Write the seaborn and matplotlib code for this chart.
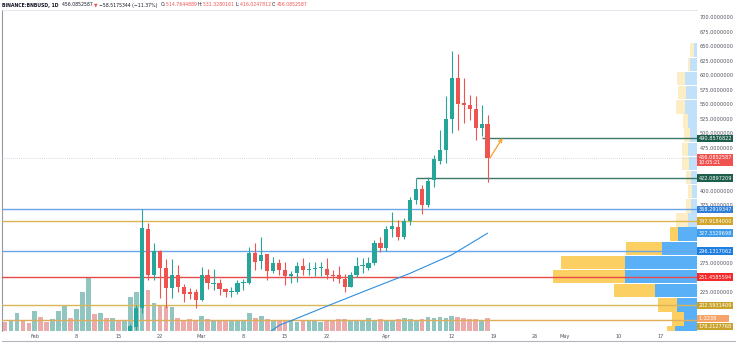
import matplotlib
matplotlib.use("Agg")
import matplotlib.pyplot as plt
import matplotlib.transforms as mtransforms
import numpy as np
import pandas as pd
import seaborn as sns

sns.set_theme(style="white")
plt.rcParams["font.family"] = ["DejaVu Sans"]

# ---- daily BNB/USD candles, day index counted from 1 Feb 2021 ----
candle_day = list(range(16, 77))
candle_open = [140, 166, 198, 334.5, 255, 296, 268, 232, 255, 235, 226.4, 226.4, 212, 255, 240.5,
               241, 230.5, 226, 226.4, 241, 241, 293.6, 279, 291, 262, 276, 264, 254, 259,
               271, 263, 265, 267, 266, 255, 255, 249, 235, 256, 270, 268, 275, 311, 302, 334,
               338, 321, 348, 384, 403, 376, 419, 452, 471, 524, 594, 551, 548, 541, 508,
               514.7644889]
candle_high = [170, 203, 369, 344.3, 310, 298, 282.8, 283, 272.4, 240, 233, 231, 269.5, 265.5, 265,
               249, 233, 234, 246.6, 248, 304, 309.8, 321.3, 292, 286.7, 283, 278, 262, 277,
               284, 277, 277, 277, 284, 264, 270, 257, 260, 286, 284, 287, 316, 320, 340, 364,
               350, 354, 390, 422.09, 410, 425, 462, 506, 564, 641, 637, 595, 565, 563, 548,
               531.3280161]
candle_low = [135, 160, 190, 246.6, 246, 215, 198.9, 215, 226.4, 209, 214, 197.8, 211, 231, 230,
              221, 218, 218, 222, 230, 239, 263.8, 265, 246.6, 259, 255, 238, 242, 243,
              255, 255, 254, 254, 249, 245, 241, 225, 234, 252, 259, 263, 273, 295, 297, 320,
              315, 318, 342, 378, 360, 372, 407, 447, 448, 500, 505, 517, 522, 488, 494,
              416.0247812]
candle_close = [167, 198, 335.7, 255.2, 296.6, 267.8, 232.2, 255.2, 235, 222.4, 222, 212, 255, 241,
                241.8, 230.5, 226.5, 227.5, 241, 243, 293.6, 278, 289.7, 262, 276.4, 264, 254,
                257, 271,
                263, 265, 267, 268, 255, 253, 249, 235, 256, 270, 272, 275, 311, 302, 334, 340,
                321, 348, 384, 403, 376, 418, 455, 471, 524, 594, 549.5, 549, 541, 508,
                514.7644889, 456.0852587]

# ---- daily volume (millions), from 27 Jan ----
volume_day = list(range(-5, 77))
volume = [0.88, 0.97, 1.67, 0.94, 0.73, 1.89, 1.29, 0.88, 1.10, 1.92, 2.36, 1.25, 2.08, 3.71,
          5.03, 1.60,
          1.67, 1.20, 1.26, 1.04, 1.04, 3.24, 3.71, 4.20, 3.87, 2.61, 2.39, 2.39, 2.29, 1.20,
          1.05, 1.10, 1.00, 1.44,
          1.10, 1.00, 1.05, 0.95, 0.90, 1.00, 1.05, 1.67, 1.20, 1.44, 1.10, 1.00,
          1.05, 0.95, 0.90, 0.85, 1.00, 0.95, 0.90, 0.85, 0.90, 1.05, 1.10, 1.15, 1.00, 0.95,
          1.05, 1.20, 1.00, 1.10, 0.95, 1.05, 1.10, 1.25, 1.15, 1.05, 1.15, 1.30, 1.20, 1.35,
          1.25, 1.40, 1.30, 1.20, 1.15, 1.10, 1.05, 1.2238]
# direction of the days before the first drawn candle
volume_up = [False, True, True, False, False, True, False, False, True, True, True, False, True,
             True, True, False, True, False, True, False, True]

# ---- 50-day moving average of close ----
ma_day = [39.5, 41.1, 43.3, 49.5, 56.0, 63.0, 70.0, 76.0]
ma_value = [157.4, 168.9, 177.6, 203.4, 230.0, 258.1, 290.0, 327.3]

# ---- visible-range volume profile (rows of 24.4 USD) ----
vp_bottom = [142.6, 167.0, 191.4, 215.8, 240.2, 264.6, 289.0, 313.4, 337.8, 362.2, 386.6,
             411.0, 435.4, 459.8, 484.2, 508.6, 533.0, 557.4, 581.8, 606.2, 630.6]
vp_up = [22, 13, 20, 42, 72, 72, 35, 19, 9, 6, 5, 6, 8, 9, 7, 9, 12, 11, 12, 7, 3]
vp_down = [8, 12, 19, 41, 72, 64, 36, 8, 12, 5, 4, 5, 7, 6, 6, 5, 9, 8, 8, 2, 4]
vp_value_area = (142.6, 337.8)

# ---- horizontal levels: (price, line colour, label colour, start day) ----
levels = [
    (368.2919347, "#6aa6e6", "#2f7fd8", None),
    (347.9184000, "#dcb453", "#d2a62a", None),
    (296.1317062, "#6aa6e6", "#1f7fe0", None),
    (251.4585594, "#e84a4a", "#f22a2a", None),
    (202.5931409, "#d8b656", "#c9a22c", None),
    (178.2127768, "#e0ad5a", "#c9a22c", None),
    (490.8576822, "#3d7766", "#1e5e4c", 75.0),
    (422.0897209, "#3d7766", "#1e5e4c", 64.0),
]
ma_label = 327.3329698
last_price = 456.0852587
volume_label = "1.2238"

price_ticks = [700, 675, 650, 625, 600, 575, 550, 525, 500, 475, 400, 375, 275, 225]
date_ticks = [0, 7, 14, 21, 28, 35, 42, 49, 59, 70, 77, 84, 89, 98, 105]
date_labels = ["Feb", "8", "15", "22", "Mar", "8", "15", "22", "Apr", "12", "19", "26", "May",
               "10", "17"]

UP, DOWN = "#26a69a", "#ef5350"
TXT = "#50535e"
FS = 3.6

W, H = 736, 345
fig = plt.figure(figsize=(W / 100, H / 100), dpi=100)
fig.patch.set_facecolor("white")
pane = [2 / W, (H - 331) / H, 695 / W, 321 / H]
XL = (-5.52, 111.15)

# volume pane at the back
axv = fig.add_axes(pane)
vol_df = pd.DataFrame({"day": volume_day, "volume": volume})
up_flags = volume_up + [c >= o for o, c in zip(candle_open, candle_close)]
vol_df["dir"] = np.where(up_flags, "up", "down")
sns.barplot(data=vol_df, x="day", y="volume", hue="dir", native_scale=True, dodge=False,
            palette={"up": UP, "down": DOWN}, alpha=0.55, width=0.8, errorbar=None,
            legend=False, ax=axv, linewidth=0)
axv.set_xlim(*XL)
axv.set_ylim(0, 30.28)
axv.axis("off")

# price pane
ax = axv.twinx()
ax.set_zorder(3)
ax.patch.set_visible(False)
ax.set_ylim(158.6, 712.1)
ax.set_xlim(*XL)
ax.xaxis.set_visible(True)

# volume profile, anchored to the right edge
axp = ax.twiny()
axp.set_zorder(2)
axp.patch.set_visible(False)
for b, u, d in zip(vp_bottom, vp_up, vp_down):
    inside = vp_value_area[0] <= b < vp_value_area[1]
    a = 0.75 if inside else 0.28
    axp.barh(b + 0.6, u, height=23.2, align="edge", color="#2196f3", alpha=a, lw=0)
    axp.barh(b + 0.6, d, height=23.2, left=u, align="edge", color="#fbc02d", alpha=a, lw=0)
axp.set_xlim(695, 0)
axp.axis("off")
axp.set_ylim(158.6, 712.1)

# last price dotted line
ax.axhline(last_price, color="#c8cad0", lw=0.6, ls=(0, (1, 1.5)), zorder=1)

for price, lc, _, start in levels:
    if start is None:
        ax.axhline(price, color=lc, lw=1.0, zorder=2)
    else:
        ax.hlines(price, start, XL[1], color=lc, lw=1.0, zorder=2)

sns.lineplot(x=ma_day, y=ma_value, ax=ax, color="#2f8ee0", lw=0.8, zorder=2)

# candles
o = np.array(candle_open); c = np.array(candle_close)
hi = np.array(candle_high); lo = np.array(candle_low); dd = np.array(candle_day)
col = np.where(c >= o, UP, DOWN)
ax.vlines(dd, lo, hi, colors=col, lw=0.8, zorder=4)
body = np.maximum(np.abs(c - o), 1.3)
ax.bar(dd, body, bottom=np.minimum(o, c), width=0.72, color=col, lw=0, zorder=5)

# hand-drawn arrow
ax.annotate("", xy=(78.5, 491.5), xytext=(76.4, 457), zorder=6,
            arrowprops=dict(arrowstyle="->", color="#f5a12c", lw=0.9,
                            shrinkA=0, shrinkB=0, mutation_scale=6))

# axes styling
for s in ["top", "left", "bottom", "right"]:
    ax.spines[s].set_visible(False)
ax.yaxis.tick_right()
ax.set_yticks(price_ticks)
ax.set_yticklabels([f"{p:.7f}" for p in price_ticks], fontsize=FS, color=TXT)
ax.tick_params(axis="y", length=0, pad=2.2)
ax.set_xticks(date_ticks)
ax.set_xticklabels(date_labels, fontsize=FS, color=TXT)
ax.tick_params(axis="x", length=0, pad=2.5)
ax.set_xlabel(""); ax.set_ylabel("")

# frame lines
fig.add_artist(plt.Line2D([2 / W, 2 / W], [(H - 331) / H, (H - 10) / H], color="#9598a1", lw=0.8))
fig.add_artist(plt.Line2D([2 / W, 735 / W], [(H - 341) / H, (H - 341) / H], color="#b2b5be", lw=0.8))
fig.add_artist(plt.Line2D([2 / W, 697 / W], [(H - 10) / H, (H - 10) / H], color="#e0e3eb", lw=0.6))

# price-scale labels
lab_tf = mtransforms.blended_transform_factory(ax.transAxes, ax.transData)


def scale_label(y, text, bg, fg="white"):
    ax.text(1.0025, y, text, transform=lab_tf, fontsize=FS, color=fg, va="center", ha="left",
            clip_on=False, zorder=10, linespacing=1.0,
            bbox=dict(boxstyle="square,pad=0.25", fc=bg, ec="none"))


for price, _, bg, _ in levels:
    if abs(price - 178.2127768) < 1e-6:
        scale_label(166.5, f"{price:.7f}", bg)
    else:
        scale_label(price, f"{price:.7f}", bg)
scale_label(ma_label, f"{ma_label:.7f}", "#3d9be9")
scale_label(last_price - 2.5, f"{last_price:.7f}\n10:05:21", "#ef5350")
scale_label(180.5, volume_label + "       ", "#f7a46b")

# legend line at the top
fig.canvas.draw()
rend = fig.canvas.get_renderer()
segments = [("BINANCE:BNBUSD, 1D  ", "#131722"), ("456.0852587 ", "#131722"),
            ("\u25bc ", "#ef5350"), ("\u221258.5175344 (\u221211.37%)  ", "#131722"),
            ("O:", "#131722"), ("514.7644889 ", "#ef5350"), ("H:", "#131722"),
            ("531.3280161 ", "#ef5350"), ("L:", "#131722"), ("416.0247812 ", "#ef5350"),
            ("C:", "#131722"), ("456.0852587", "#ef5350")]
xpos = 2
for txt, colr in segments:
    t = fig.text(xpos / W, (H - 5) / H, txt, fontsize=3.3, color=colr, va="center", ha="left",
                 fontweight="bold" if txt.startswith("BINANCE") else "normal")
    bb = t.get_window_extent(rend)
    xpos += bb.width

fig.savefig("out.png", dpi=100, facecolor="white")
